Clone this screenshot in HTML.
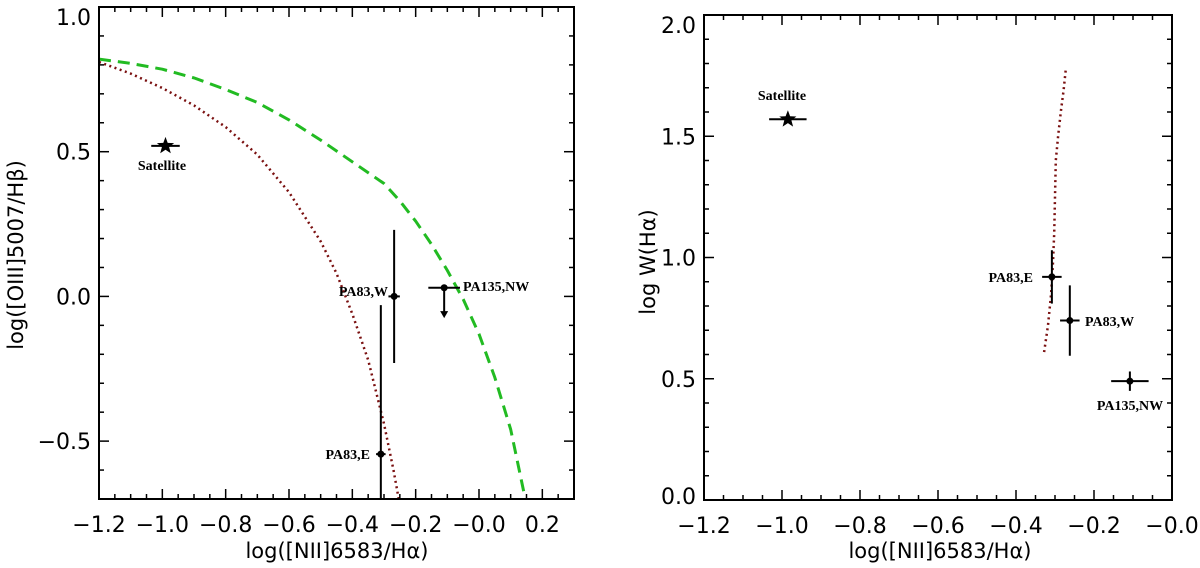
<!DOCTYPE html>
<html>
<head>
<meta charset="utf-8">
<style>
  html,body{margin:0;padding:0;background:#fff;}
  svg{display:block;}
  .tick{font-family:"DejaVu Sans","Liberation Sans",sans-serif;font-size:22px;fill:#000;}
  .ttl{font-family:"DejaVu Sans","Liberation Sans",sans-serif;font-size:21px;fill:#000;}
  .lbl{font-family:"Liberation Serif",serif;font-weight:bold;font-size:14px;fill:#000;}
</style>
</head>
<body>
<svg id="chart" width="1200" height="568" viewBox="0 0 1200 568" xmlns="http://www.w3.org/2000/svg">
  <g id="left"></g>
  <g id="right"></g>
</svg>
<script>
// ---- Left panel data ----
const leftXTicks = [-1.2, -1.0, -0.8, -0.6, -0.4, -0.2, 0.0, 0.2];
const leftXTickLabels = ["\u22121.2", "\u22121.0", "\u22120.8", "\u22120.6", "\u22120.4", "\u22120.2", "\u22120.0", "0.2"];
const leftYTicks = [-0.5, 0.0, 0.5, 1.0];
const leftYTickLabels = ["\u22120.5", "0.0", "0.5", "1.0"];
const leftNames = ["Satellite", "PA83,W", "PA135,NW", "PA83,E"];
const leftX = [-0.99, -0.268, -0.11, -0.31];
const leftY = [0.52, 0.0, 0.03, -0.545];
const leftXErr = [0.045, 0.018, 0.05, 0.015];
const leftYErrHi = [0, 0.23, 0, 0.515];
const leftYErrLo = [0, 0.23, 0, 0.3];
const leftUpperLimit = [false, false, true, false];
const kewleyX = [-1.2, -1.1, -1.0, -0.9, -0.8, -0.7, -0.6, -0.5, -0.4, -0.3, -0.25, -0.2, -0.15, -0.1, -0.05, 0.0, 0.05, 0.1, 0.15];
const kewleyY = [0.82, 0.805, 0.785, 0.755, 0.715, 0.67, 0.61, 0.54, 0.465, 0.39, 0.33, 0.26, 0.18, 0.09, -0.01, -0.13, -0.28, -0.46, -0.72];
const kauffX = [-1.2, -1.1, -1.0, -0.9, -0.8, -0.7, -0.6, -0.5, -0.45, -0.4, -0.35, -0.3, -0.27, -0.25];
const kauffY = [0.81, 0.77, 0.72, 0.66, 0.585, 0.49, 0.36, 0.19, 0.08, -0.06, -0.22, -0.44, -0.6, -0.72];

// ---- Right panel data ----
const rightXTicks = [-1.2, -1.0, -0.8, -0.6, -0.4, -0.2, 0.0];
const rightXTickLabels = ["\u22121.2", "\u22121.0", "\u22120.8", "\u22120.6", "\u22120.4", "\u22120.2", "\u22120.0"];
const rightYTicks = [0.0, 0.5, 1.0, 1.5, 2.0];
const rightYTickLabels = ["0.0", "0.5", "1.0", "1.5", "2.0"];
const rightNames = ["Satellite", "PA83,E", "PA83,W", "PA135,NW"];
const rightX = [-0.985, -0.308, -0.262, -0.108];
const rightY = [1.57, 0.92, 0.74, 0.49];
const rightXErr = [0.048, 0.025, 0.025, 0.048];
const rightYErr = [0, 0.11, 0.145, 0.04];
const rightCurveX = [-0.328, -0.318, -0.31, -0.305, -0.302, -0.3, -0.298, -0.292, -0.285, -0.278, -0.272];
const rightCurveY = [0.61, 0.72, 0.85, 0.98, 1.1, 1.25, 1.4, 1.5, 1.6, 1.69, 1.78];

const NS = "http://www.w3.org/2000/svg";
function mk(parent, tag, attrs, text) {
  const el = document.createElementNS(NS, tag);
  for (const k in attrs) el.setAttribute(k, attrs[k]);
  if (text !== undefined) el.textContent = text;
  parent.appendChild(el);
  return el;
}
function scale(d0, d1, r0, r1) { return v => r0 + (v - d0) / (d1 - d0) * (r1 - r0); }

function drawAxes(g, sx, sy, box, xTicks, xLabels, yTicks, yLabels, xMinor, yMinor, xr, yr) {
  const frame = mk(g, "rect", {x: box.l, y: box.t, width: box.r - box.l, height: box.b - box.t, fill: "none", stroke: "#000", "stroke-width": 2});
  
  
  const tg = mk(g, "g", {});
  
  
  for (let v = xr[0]; v <= xr[1] + 1e-9; v += xMinor) {
    const x = sx(v);
    const isMajor = xTicks.some(t => Math.abs(t - v) < 1e-6);
    const len = isMajor ? 10 : 5;
    mk(tg, "line", {x1: x, x2: x, y1: box.b, y2: box.b - len, stroke: "#000", "stroke-width": 1.5});
    mk(tg, "line", {x1: x, x2: x, y1: box.t, y2: box.t + len, stroke: "#000", "stroke-width": 1.5});
  }
  for (let v = yr[0]; v <= yr[1] + 1e-9; v += yMinor) {
    const y = sy(v);
    const isMajor = yTicks.some(t => Math.abs(t - v) < 1e-6);
    const len = isMajor ? 10 : 5;
    mk(tg, "line", {x1: box.l, x2: box.l + len, y1: y, y2: y, stroke: "#000", "stroke-width": 1.5});
    mk(tg, "line", {x1: box.r, x2: box.r - len, y1: y, y2: y, stroke: "#000", "stroke-width": 1.5});
  }
  xTicks.forEach((v, i) => {
    const t = mk(g, "text", {x: sx(v), y: box.b + 33, "text-anchor": "middle", class: "tick"}, xLabels[i]);
    
    
  });
  yTicks.forEach((v, i) => {
    let cy = sy(v);
    cy = Math.max(box.t + 10, Math.min(box.b - 4, cy));
    const t = mk(g, "text", {x: box.l - 8, y: cy + 8, "text-anchor": "end", class: "tick"}, yLabels[i]);
    
    
  });
}

function curve(g, sx, sy, xs, ys, attrs, name) {
  const d = xs.map((x, i) => (i ? "L" : "M") + sx(x).toFixed(1) + "," + sy(ys[i]).toFixed(1)).join("");
  const p = mk(g, "path", Object.assign({d: d, fill: "none", "stroke-linejoin": "round"}, attrs));
  
  
}

function star(g, cx, cy, r) {
  let pts = [];
  for (let i = 0; i < 10; i++) {
    const a = -Math.PI / 2 + i * Math.PI / 5;
    const rr = i % 2 ? r * 0.42 : r;
    pts.push((cx + rr * Math.cos(a)).toFixed(1) + "," + (cy + rr * Math.sin(a)).toFixed(1));
  }
  const s = mk(g, "polygon", {points: pts.join(" "), fill: "#000"});
  
  
}

// ---------- LEFT ----------
(function () {
  const g = document.getElementById("left");
  const box = {l: 99, r: 574, t: 7, b: 499};
  const sx = scale(-1.2, 0.3, box.l, box.r);
  const sy = scale(-0.7, 1.0, box.b, box.t);
  const defs = mk(g, "defs", {});
  mk(mk(defs, "clipPath", {id: "clipL"}), "rect", {x: box.l, y: box.t, width: box.r - box.l, height: box.b - box.t});
  const cg = mk(g, "g", {"clip-path": "url(#clipL)"});
  
  
  curve(cg, sx, sy, kewleyX, kewleyY, {stroke: "#22bb22", "stroke-width": 3, "stroke-dasharray": "12,7"}, "kewley-max-starburst-line");
  curve(cg, sx, sy, kauffX, kauffY, {stroke: "#7a1010", "stroke-width": 2.5, "stroke-dasharray": "2,3.5"}, "kauffmann-line");
  leftNames.forEach((n, i) => {
    const pg = mk(cg, "g", {});
    
    
    const x = sx(leftX[i]), y = sy(leftY[i]);
    mk(pg, "line", {x1: sx(leftX[i] - leftXErr[i]), x2: sx(leftX[i] + leftXErr[i]), y1: y, y2: y, stroke: "#000", "stroke-width": 2});
    if (leftYErrHi[i] > 0 || leftYErrLo[i] > 0)
      mk(pg, "line", {x1: x, x2: x, y1: sy(leftY[i] + leftYErrHi[i]), y2: sy(leftY[i] - leftYErrLo[i]), stroke: "#000", "stroke-width": 2});
    if (leftUpperLimit[i]) {
      const yt = sy(leftY[i] - 0.105);
      mk(pg, "line", {x1: x, x2: x, y1: y, y2: yt - 4, stroke: "#000", "stroke-width": 2});
      mk(pg, "polygon", {points: `${x - 4},${yt - 7} ${x + 4},${yt - 7} ${x},${yt}`, fill: "#000"});
    }
    if (n === "Satellite") star(pg, x, y, 9);
    else mk(pg, "circle", {cx: x, cy: y, r: 3.5, fill: "#000"});
  });
  const lp = [
    ["Satellite", 162, 170, "middle"],
    ["PA83,W", 388, 296, "end"],
    ["PA135,NW", 463, 291, "start"],
    ["PA83,E", 370, 459, "end"]
  ];
  lp.forEach(l => {
    const t = mk(g, "text", {x: l[1], y: l[2], "text-anchor": l[3], class: "lbl"}, l[0]);
    
    
  });
  drawAxes(g, sx, sy, box, leftXTicks, leftXTickLabels, leftYTicks, leftYTickLabels, 0.05, 0.1, [-1.2, 0.3], [-0.7, 1.0]);
  const xt = mk(g, "text", {x: 337, y: 558, "text-anchor": "middle", class: "ttl"}, "log([NII]6583/H\u03b1)");
  
  
  const yt = mk(g, "text", {x: 0, y: 0, "text-anchor": "middle", class: "ttl", transform: "translate(23,255) rotate(-90)"}, "log([OIII]5007/H\u03b2)");
  
  
})();

// ---------- RIGHT ----------
(function () {
  const g = document.getElementById("right");
  const box = {l: 704, r: 1172, t: 15, b: 500};
  const sx = scale(-1.2, 0.0, box.l, box.r);
  const sy = scale(0.0, 2.0, box.b, box.t);
  curve(g, sx, sy, rightCurveX, rightCurveY, {stroke: "#7a1010", "stroke-width": 2.5, "stroke-dasharray": "2,3.5"}, "demarcation-line");
  rightNames.forEach((n, i) => {
    const pg = mk(g, "g", {});
    
    
    const x = sx(rightX[i]), y = sy(rightY[i]);
    mk(pg, "line", {x1: sx(rightX[i] - rightXErr[i]), x2: sx(rightX[i] + rightXErr[i]), y1: y, y2: y, stroke: "#000", "stroke-width": 2});
    if (rightYErr[i] > 0)
      mk(pg, "line", {x1: x, x2: x, y1: sy(rightY[i] + rightYErr[i]), y2: sy(rightY[i] - rightYErr[i]), stroke: "#000", "stroke-width": 2});
    if (n === "Satellite") star(pg, x, y, 9);
    else mk(pg, "circle", {cx: x, cy: y, r: 3.5, fill: "#000"});
  });
  const lp = [
    ["Satellite", 782, 100, "middle"],
    ["PA83,E", 1033, 282, "end"],
    ["PA83,W", 1085, 326, "start"],
    ["PA135,NW", 1130, 410, "middle"]
  ];
  lp.forEach(l => {
    const t = mk(g, "text", {x: l[1], y: l[2], "text-anchor": l[3], class: "lbl"}, l[0]);
    
    
  });
  drawAxes(g, sx, sy, box, rightXTicks, rightXTickLabels, rightYTicks, rightYTickLabels, 0.05, 0.1, [-1.2, 0.0], [0.0, 2.0]);
  const xt = mk(g, "text", {x: 940, y: 558, "text-anchor": "middle", class: "ttl"}, "log([NII]6583/H\u03b1)");
  
  
  const yt = mk(g, "text", {x: 0, y: 0, "text-anchor": "middle", class: "ttl", transform: "translate(655,262) rotate(-90)"}, "log  W(H\u03b1)");
  
  
})();
</script>
</body>
</html>
